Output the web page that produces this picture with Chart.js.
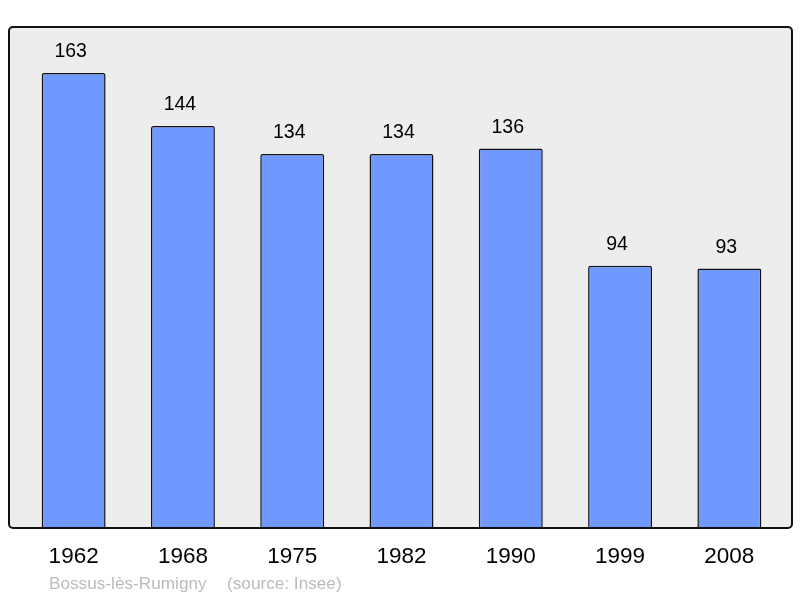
<!DOCTYPE html>
<html>
<head>
<meta charset="utf-8">
<script src="https://cdn.jsdelivr.net/npm/chart.js@4.4.0/dist/chart.umd.min.js"></script>
<style>
  html, body { margin: 0; padding: 0; background: #fff; }
  #wrap { width: 800px; height: 598px; }
</style>
</head>
<body>
<div id="wrap"><canvas id="popChart" width="800" height="598"></canvas></div>
<script>
const years = ["1962", "1968", "1975", "1982", "1990", "1999", "2008"];
const population = [163, 144, 134, 134, 136, 94, 93];
const footerName = "Bossus-lès-Rumigny";
const footerSource = "(source: Insee)";

// grey framed box behind the bars, slightly wider than the chart area
const framePlugin = {
  id: "frame",
  beforeDraw(chart) {
    const ctx = chart.ctx;
    const a = chart.chartArea;
    ctx.save();
    ctx.beginPath();
    ctx.roundRect(9, a.top, 783, a.bottom - a.top, 4);
    ctx.fillStyle = "#ededed";
    ctx.fill();
    ctx.restore();
  },
  afterDatasetsDraw(chart) {
    const ctx = chart.ctx;
    const a = chart.chartArea;
    const xs = chart.scales.x;
    const meta = chart.getDatasetMeta(0);
    ctx.save();
    ctx.beginPath();
    ctx.roundRect(9, a.top, 783, a.bottom - a.top, 4);
    ctx.lineWidth = 2;
    ctx.strokeStyle = "#111";
    ctx.stroke();

    ctx.fillStyle = "#000";
    ctx.textAlign = "center";
    ctx.textBaseline = "middle";
    ctx.font = "19.5px 'Liberation Sans', Arial, sans-serif";
    meta.data.forEach((bar, i) => {
      ctx.fillText(String(population[i]), bar.x - 3, bar.y - 21);
    });

    ctx.font = "22.5px 'Liberation Sans', Arial, sans-serif";
    years.forEach((y, i) => {
      ctx.fillText(y, xs.getPixelForValue(i), 557);
    });

    ctx.fillStyle = "#bbbbbb";
    ctx.textAlign = "left";
    ctx.font = "17.2px 'Liberation Sans', Arial, sans-serif";
    ctx.fillText(footerName, 49, 584);
    ctx.fillText(footerSource, 227, 584);
    ctx.restore();
  }
};

new Chart(document.getElementById("popChart"), {
  type: "bar",
  data: {
    labels: years,
    datasets: [{
      data: population,
      backgroundColor: "#7099ff",
      borderColor: "#111",
      borderWidth: 1.5,
      borderRadius: 2,
      borderSkipped: "bottom",
      barPercentage: 0.585,
      categoryPercentage: 1
    }]
  },
  plugins: [framePlugin],
  options: {
    responsive: false,
    animation: false,
    layout: { padding: { left: 19, right: 16, top: 27, bottom: 70 } },
    plugins: { legend: { display: false }, tooltip: { enabled: false } },
    scales: {
      x: { display: false },
      y: { display: false, min: 0, max: 179.5 }
    }
  }
});
</script>
</body>
</html>
